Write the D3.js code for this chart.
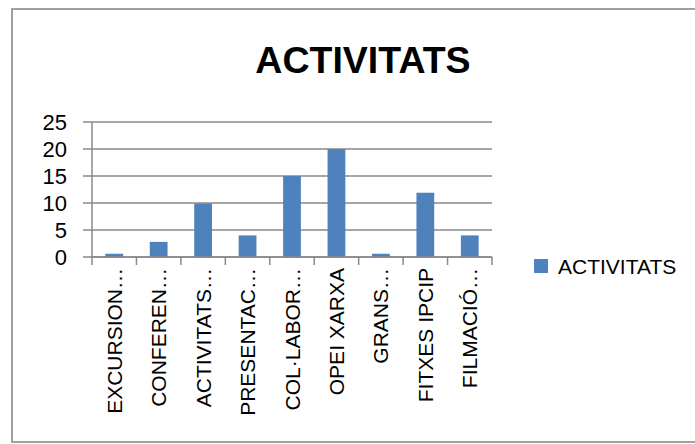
<!DOCTYPE html>
<html>
<head>
<meta charset="utf-8">
<script src="https://cdn.jsdelivr.net/npm/d3@7"></script>
<style>
  html, body { margin: 0; background: #fff; overflow: hidden; }
  svg { display: block; }
  text { font-family: "Liberation Sans", Arial, sans-serif; fill: #000; }
</style>
</head>
<body>
<script>
const categories = ["EXCURSION…", "CONFEREN…", "ACTIVITATS…", "PRESENTAC…", "COL·LABOR…",
  "OPEI XARXA", "GRANS…", "FITXES IPCIP", "FILMACIÓ…"];
const values = [0.6, 2.8, 9.9, 4, 15, 20, 0.6, 11.9, 4];
const yTicks = [0, 5, 10, 15, 20, 25];
const seriesName = "ACTIVITATS";

const width = 695, height = 444;
const svg = d3.select("body")
  .append("svg")
  .attr("width", width)
  .attr("height", height);

// chart area border: left, top and bottom (right edge is off the picture)
svg.append("path")
  .attr("d", "M800,9H12V442H800")
  .attr("fill", "none")
  .attr("stroke", "#a0a0a0")
  .attr("stroke-width", 2);

svg.append("text")
  .attr("x", 363).attr("y", 73)
  .attr("text-anchor", "middle")
  .attr("font-size", 37.5)
  .attr("font-weight", "bold")
  .text(seriesName);

const x = d3.scaleBand()
  .domain(categories)
  .range([92, 492])
  .paddingInner(0.6)
  .paddingOuter(0.3);

const y = d3.scaleLinear()
  .domain([0, 25])
  .range([257, 122]);

// gridlines with outward tick
svg.append("g")
  .selectAll("line")
  .data(yTicks)
  .enter()
  .append("line")
  .attr("x1", 83).attr("x2", 492)
  .attr("y1", d => y(d)).attr("y2", d => y(d))
  .attr("stroke", "#898989")
  .attr("stroke-width", 1.5);

svg.append("g")
  .selectAll("text")
  .data(yTicks)
  .enter()
  .append("text")
  .attr("x", 67)
  .attr("y", d => y(d))
  .attr("dy", "0.36em")
  .attr("text-anchor", "end")
  .attr("font-size", 22)
  .text(d => d);

// y axis line
svg.append("line")
  .attr("x1", 92).attr("x2", 92)
  .attr("y1", y(25)).attr("y2", y(0))
  .attr("stroke", "#898989")
  .attr("stroke-width", 1.5);

// x ticks at category boundaries
const bounds = d3.range(categories.length + 1).map(i => 92 + i * (400 / categories.length));
svg.append("g")
  .selectAll("line")
  .data(bounds)
  .enter()
  .append("line")
  .attr("x1", d => d).attr("x2", d => d)
  .attr("y1", y(0)).attr("y2", y(0) + 8)
  .attr("stroke", "#898989")
  .attr("stroke-width", 1.5);

// bars
svg.append("g")
  .selectAll("rect")
  .data(values)
  .enter()
  .append("rect")
  .attr("x", (d, i) => x(categories[i]))
  .attr("y", d => y(d))
  .attr("width", x.bandwidth())
  .attr("height", d => y(0) - y(d))
  .attr("fill", "#4f81bd");

// x axis line on top of bars
svg.append("line")
  .attr("x1", 92).attr("x2", 492)
  .attr("y1", y(0)).attr("y2", y(0))
  .attr("stroke", "#898989")
  .attr("stroke-width", 1.5);

// rotated category labels
svg.append("g")
  .selectAll("text")
  .data(categories)
  .enter()
  .append("text")
  .attr("transform", d => `translate(${x(d) + x.bandwidth() / 2}, 268) rotate(-90)`)
  .attr("dy", "0.36em")
  .attr("text-anchor", "end")
  .attr("font-size", 21)
  .text(d => d);

// legend
svg.append("rect")
  .attr("x", 534).attr("y", 259)
  .attr("width", 14).attr("height", 14)
  .attr("fill", "#4f81bd");

svg.append("text")
  .attr("x", 558).attr("y", 266)
  .attr("dy", "0.36em")
  .attr("font-size", 21)
  .text(seriesName);
</script>
</body>
</html>
